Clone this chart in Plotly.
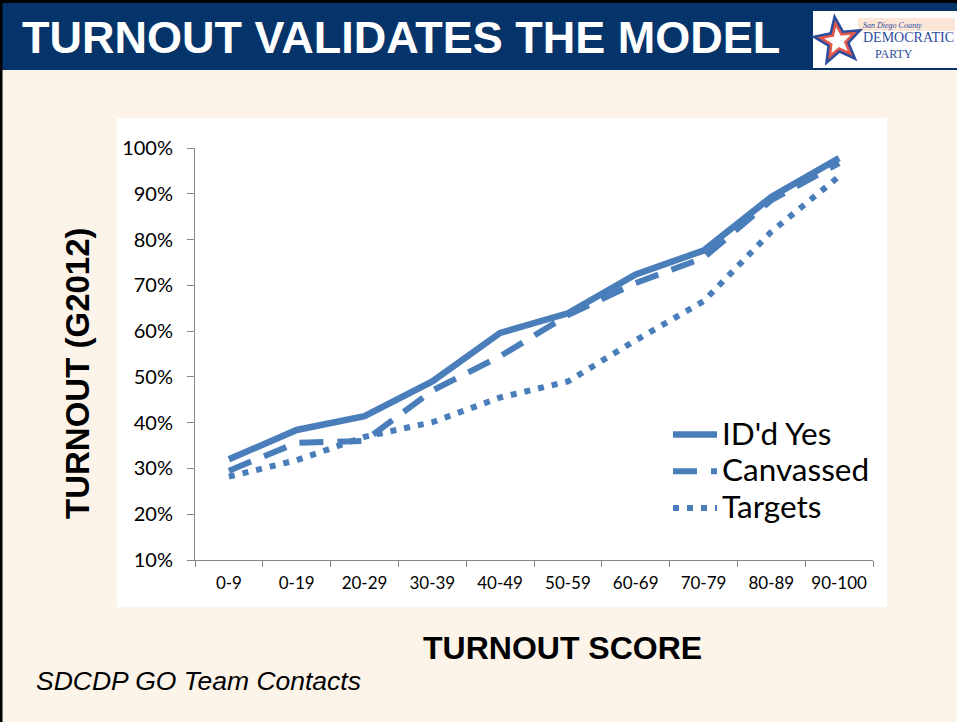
import math
import plotly.graph_objects as go

# ---- data ----
categories = ["0-9", "0-19", "20-29", "30-39", "40-49", "50-59", "60-69", "70-79", "80-89", "90-100"]
idd_yes = [0.320, 0.384, 0.414, 0.490, 0.596, 0.639, 0.724, 0.776, 0.893, 0.978]
canvassed = [0.295, 0.356, 0.360, 0.470, 0.545, 0.635, 0.705, 0.760, 0.886, 0.967]
targets = [0.282, 0.318, 0.369, 0.401, 0.455, 0.490, 0.580, 0.665, 0.817, 0.938]
series_names = ["ID'd Yes", "Canvassed", "Targets"]

W, H = 957, 722
PL, PR, PT, PB = 195, 873, 148, 560

def px(x):
    return (x - PL) / (PR - PL)

def py(y):
    return (PB - y) / (PB - PT)

LINE = "#4A7EBB"
BG = "#FDF4E9"
NAVY = "#04346A"

def big(name):
    return f"<span style='font-size:31.5px'>{name}</span>"

fig = go.Figure()
fig.add_trace(go.Scatter(x=categories, y=targets, name=big(series_names[2]), mode="lines",
                         line=dict(color=LINE, width=6, dash="6px,8px")))
fig.add_trace(go.Scatter(x=categories, y=canvassed, name=big(series_names[1]), mode="lines",
                         line=dict(color=LINE, width=6, dash="24px,14px")))
fig.add_trace(go.Scatter(x=categories, y=idd_yes, name=big(series_names[0]), mode="lines",
                         line=dict(color=LINE, width=6.5)))

shapes = []
# white chart box
shapes.append(dict(type="rect", xref="paper", yref="paper", x0=px(117), x1=px(887), y0=py(607), y1=py(118),
                   fillcolor="white", line=dict(width=0), layer="below"))
# header band
shapes.append(dict(type="rect", xref="paper", yref="paper", x0=px(0), x1=px(957), y0=py(70), y1=py(0),
                   fillcolor=NAVY, line=dict(width=0), layer="above"))
shapes.append(dict(type="rect", xref="paper", yref="paper", x0=px(0), x1=px(957), y0=py(3), y1=py(0),
                   fillcolor="black", line=dict(width=0), layer="above"))
shapes.append(dict(type="rect", xref="paper", yref="paper", x0=px(0), x1=px(2.5), y0=py(722), y1=py(0),
                   fillcolor="black", line=dict(width=0), layer="above"))
# logo box
shapes.append(dict(type="rect", xref="paper", yref="paper", x0=px(813), x1=px(957), y0=py(68), y1=py(11),
                   fillcolor="white", line=dict(width=0), layer="above"))
shapes.append(dict(type="rect", xref="paper", yref="paper", x0=px(858), x1=px(955), y0=py(31), y1=py(18),
                   fillcolor="#FBE6D8", line=dict(width=0), layer="above"))

def star(cx, cy, R, r, rot, color):
    pts = []
    for i in range(10):
        rad = R if i % 2 == 0 else r
        a = math.radians(-90 + rot + i * 36)
        pts.append((px(cx + rad * math.cos(a)), py(cy + rad * math.sin(a))))
    d = "M " + " L ".join(f"{x:.5f},{y:.5f}" for x, y in pts) + " Z"
    return dict(type="path", xref="paper", yref="paper", path=d, fillcolor=color,
                line=dict(width=0), layer="above")

shapes.append(star(838, 41, 28, 12, -8, "#2D4C9C"))
shapes.append(star(838, 41, 21, 9, -8, "#E2584A"))
shapes.append(star(838, 41, 14, 6, -8, "white"))

annotations = [
    dict(text="<b>TURNOUT VALIDATES THE MODEL</b>", xref="paper", yref="paper", x=px(20), y=py(38),
         xanchor="left", yanchor="middle", showarrow=False,
         font=dict(family="Liberation Sans, Arial", size=45, color="white")),
    dict(text="<i>San Diego County</i>", xref="paper", yref="paper", x=px(861), y=py(25),
         xanchor="left", yanchor="middle", showarrow=False,
         font=dict(family="Liberation Serif, Times New Roman", size=8, color="#2D4C9C")),
    dict(text="DEMOCRATIC", xref="paper", yref="paper", x=px(861), y=py(38),
         xanchor="left", yanchor="middle", showarrow=False,
         font=dict(family="Liberation Serif, Times New Roman", size=14, color="#2D4C9C")),
    dict(text="PARTY", xref="paper", yref="paper", x=px(873), y=py(54),
         xanchor="left", yanchor="middle", showarrow=False,
         font=dict(family="Liberation Serif, Times New Roman", size=12, color="#2D4C9C")),
    dict(text="<b>TURNOUT (G2012)</b>", xref="paper", yref="paper", x=px(77), y=py(373),
         xanchor="center", yanchor="middle", showarrow=False, textangle=-90,
         font=dict(family="Liberation Sans, Arial", size=33, color="black")),
    dict(text="<b>TURNOUT SCORE</b>", xref="paper", yref="paper", x=px(562), y=py(648),
         xanchor="center", yanchor="middle", showarrow=False,
         font=dict(family="Liberation Sans, Arial", size=32, color="black")),
    dict(text="<i>SDCDP GO Team Contacts</i>", xref="paper", yref="paper", x=px(34), y=py(681),
         xanchor="left", yanchor="middle", showarrow=False,
         font=dict(family="Liberation Sans, Arial", size=26.5, color="black")),
]

fig.update_layout(
    width=W, height=H,
    margin=dict(l=PL, r=W - PR, t=PT, b=H - PB, pad=0),
    paper_bgcolor=BG, plot_bgcolor="white",
    shapes=shapes, annotations=annotations,
    showlegend=True,
    legend=dict(x=px(668), y=py(411), xanchor="left", yanchor="top", traceorder="reversed",
                bgcolor="rgba(0,0,0,0)", font=dict(family="Lato, Carlito, Calibri", size=26, color="black"),
                itemwidth=44, tracegroupgap=0),
    xaxis=dict(type="category", range=[-0.5, 9.5], showline=True, linecolor="#868686", linewidth=1,
               ticks="outside", tickson="boundaries", ticklen=6, tickcolor="#868686",
               showgrid=False, zeroline=False, ticklabelstandoff=8, tickangle=0,
               tickfont=dict(family="Lato, Carlito, Calibri", size=17, color="black")),
    yaxis=dict(range=[0.1, 1.0], tick0=0.1, dtick=0.1, tickformat=".0%", showline=True,
               linecolor="#868686", linewidth=1, ticks="outside", ticklen=7, tickcolor="#868686",
               showgrid=False, zeroline=False, ticklabelstandoff=10,
               tickfont=dict(family="Lato, Carlito, Calibri", size=20, color="black")),
)

fig.write_html("out.html", config={"displayModeBar": False},
               post_script="document.body.style.margin='0';document.body.style.padding='0';")
